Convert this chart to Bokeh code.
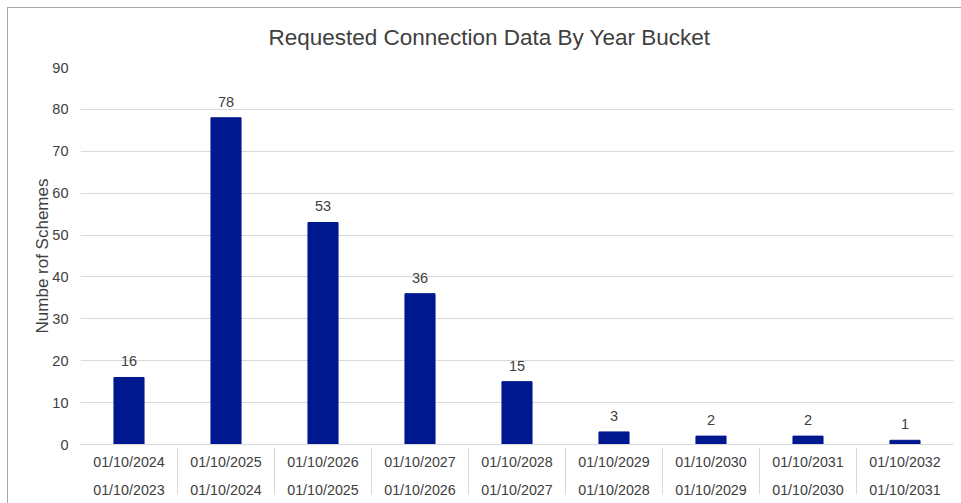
from bokeh.plotting import figure
from bokeh.models import FactorRange, ColumnDataSource, FixedTicker, LabelSet
from bokeh.core.properties import value
from bokeh.embed import file_html
from bokeh.resources import INLINE

bucket_end = ["01/10/2024", "01/10/2025", "01/10/2026", "01/10/2027", "01/10/2028",
              "01/10/2029", "01/10/2030", "01/10/2031", "01/10/2032"]
bucket_start = ["01/10/2023", "01/10/2024", "01/10/2025", "01/10/2026", "01/10/2027",
                "01/10/2028", "01/10/2029", "01/10/2030", "01/10/2031"]
schemes = [16, 78, 53, 36, 15, 3, 2, 2, 1]
y_ticks = [0, 10, 20, 30, 40, 50, 60, 70, 80, 90]

FONT = "Liberation Sans"
TXT = "#404040"
BAR = "#00188F"
GRID = "#d9d9d9"

factors = list(zip(bucket_start, bucket_end))
src = ColumnDataSource(dict(x=factors, y=schemes, lbl=[str(v) for v in schemes]))

xr = FactorRange(*factors, range_padding=0, group_padding=0, factor_padding=0,
                 subgroup_padding=0)
p = figure(x_range=xr, y_range=(0, 90), width=961, height=503,
           output_backend="svg", toolbar_location=None,
           title="Requested Connection Data By Year Bucket",
           min_border_left=80, min_border_right=8, min_border_top=67,
           min_border_bottom=59)
p.styles = {
    "background-color": "white",
    "background-image": "linear-gradient(#a6a6a6, #a6a6a6), linear-gradient(#a6a6a6, #a6a6a6)",
    "background-size": "1px 100%, 100% 1px",
    "background-position": "7px 7px, 7px 7px",
    "background-repeat": "no-repeat",
}
p.outline_line_color = None
p.background_fill_color = "white"
p.border_fill_color = None

p.title.text_font = FONT
p.title.text_font_size = "22.5px"
p.title.text_font_style = "normal"
p.title.text_color = TXT
p.title.align = "left"
p.title.offset = 188
p.title.standoff = 36

p.vbar(x="x", top="y", width=0.31, source=src, color=BAR)
p.add_layout(LabelSet(x="x", y="y", text="lbl", source=src, text_align="center",
                      text_baseline="bottom", y_offset=11, text_font=value(FONT),
                      text_font_size="14.5px", text_color=TXT))

# y axis
ya = p.yaxis[0]
ya.ticker = FixedTicker(ticks=y_ticks)
ya.axis_line_color = None
ya.major_tick_line_color = None
ya.major_tick_out = 0
ya.major_tick_in = 0
ya.minor_tick_line_color = None
ya.major_label_text_font = FONT
ya.major_label_text_font_size = "14.5px"
ya.major_label_text_color = TXT
ya.major_label_standoff = 12
ya.axis_label = "Numbe rof Schemes"
ya.axis_label_text_font = FONT
ya.axis_label_text_font_size = "17px"
ya.axis_label_text_font_style = "normal"
ya.axis_label_text_color = TXT
ya.axis_label_standoff = -3

p.ygrid.grid_line_color = GRID
p.ygrid.ticker = FixedTicker(ticks=y_ticks)
p.xgrid.grid_line_color = None

xa = p.xaxis[0]
xa.axis_line_color = GRID
xa.major_tick_line_color = None
xa.major_tick_out = 0
xa.major_tick_in = 0
xa.major_label_text_font = FONT
xa.major_label_text_font_size = "14.3px"
xa.major_label_text_color = TXT
xa.major_label_standoff = 9
xa.group_text_font = FONT
xa.group_text_font_size = "14.3px"
xa.group_text_color = TXT
xa.group_text_font_style = "normal"
xa.separator_line_color = GRID
xa.separator_line_width = 1

open("out.html", "w").write(file_html(p, INLINE))
